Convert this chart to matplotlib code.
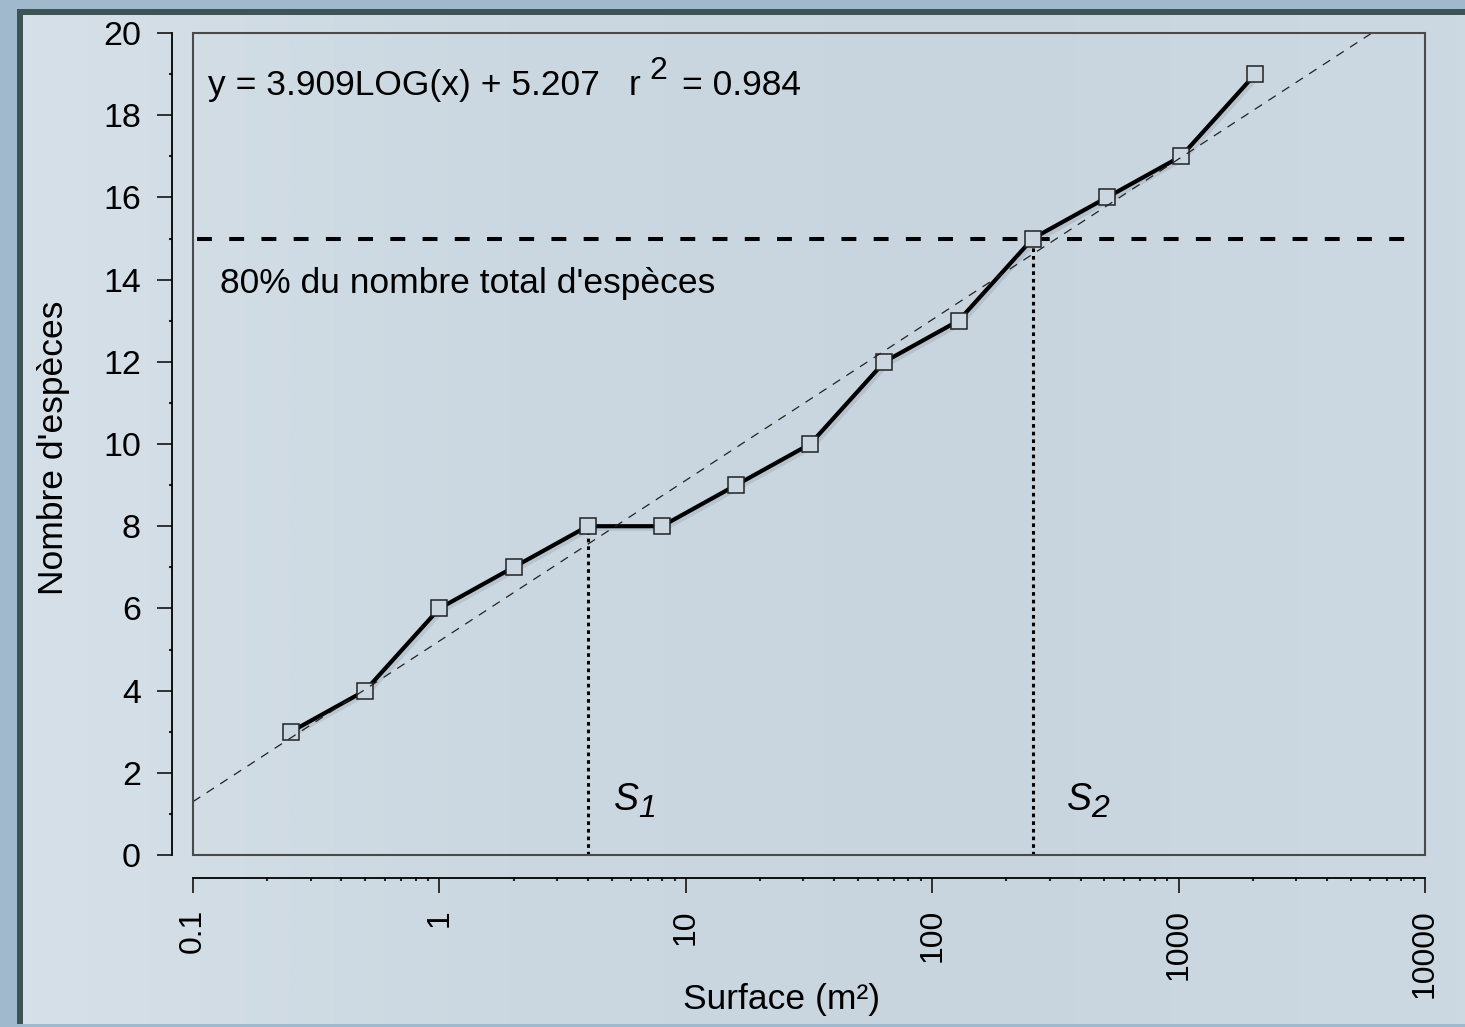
import numpy as np
import matplotlib
matplotlib.use('Agg')
import matplotlib.pyplot as plt
import matplotlib.patheffects as pe
from matplotlib.patches import Rectangle
from matplotlib.colors import LinearSegmentedColormap
from matplotlib.ticker import FixedLocator, NullFormatter, LogLocator

# data
surface = [0.25, 0.5, 1, 2, 4, 8, 16, 32, 64, 128, 256, 512, 1024, 2048]
especes = [3, 4, 6, 7, 8, 8, 9, 10, 12, 13, 15, 16, 17, 19]
pente = 3.909
ordonnee = 5.207
r2 = 0.984
seuil = 15
s_x = [4, 256]
s_y = [8, 15]
s_labels = ['1', '2']
x_ticks = [0.1, 1, 10, 100, 1000, 10000]
x_ticklabels = ['0.1', '1', '10', '100', '1000', '10000']
y_ticks = [0, 2, 4, 6, 8, 10, 12, 14, 16, 18, 20]

plt.rcParams['font.family'] = ['Liberation Sans', 'DejaVu Sans']

W, H = 1465, 1027
panel = '#cad7e0'
fig = plt.figure(figsize=(W/100.0, H/100.0), dpi=100)
fig.patch.set_facecolor('#a0b9cd')

# background: dark frame on top/left and light panel with soft gradient
bg = fig.add_axes([0, 0, 1, 1], zorder=-5)
bg.axis('off')
bg.add_patch(Rectangle((17, 9), W, H - 12, facecolor='#3e5356', edgecolor='none', zorder=1))
cmap = LinearSegmentedColormap.from_list('pan', ['#d6e0e8', '#cbd8e1', '#c8d5df', '#cdd9e2'])
grad = np.linspace(0, 1, 256).reshape(1, -1)
bg.imshow(grad, cmap=cmap, extent=(23, W, H - 3, 15), aspect='auto',
          interpolation='bicubic', zorder=2)
bg.set_xlim(0, W)
bg.set_ylim(H, 0)

ax = fig.add_axes([193/W, 1 - 855/H, 1232/W, 822/H])
ax.set_facecolor('none')
ax.set_xscale('log')
ax.set_xlim(0.1, 10000)
ax.set_ylim(0, 20)

shadow = [pe.SimpleLineShadow(offset=(2, -2), alpha=0.12, shadow_color='#304050'), pe.Normal()]

# data line and markers
ax.plot(surface, especes, color='black', lw=3.0, zorder=3, solid_capstyle='butt',
        path_effects=shadow)
ax.plot(surface, especes, ls='none', marker='s', ms=12, mfc=panel, mec='#222222',
        mew=1.1, zorder=4)

# regression line
xr = np.array([0.1, 10000])
ax.plot(xr, pente*np.log10(xr) + ordonnee, color='#222222', lw=0.9,
        dashes=(7, 6), zorder=5)

# 80% threshold
ax.axhline(seuil, xmin=0.003, xmax=0.99, color='black', lw=2.9, dashes=(3.7, 4.3), zorder=2)

# S1, S2 dotted lines
for xs, ys in zip(s_x, s_y):
    ax.plot([xs, xs], [0, ys], color='black', lw=2.2, dashes=(1.2, 1.3), zorder=2)

# texts
def px(x, y):
    return ((x - 193) / 1232.0, (855 - y) / 822.0)

fs = 25.5
ax.text(*px(208, 95), 'y = %.3fLOG(x) + %.3f' % (pente, ordonnee), transform=ax.transAxes,
        fontsize=fs, va='baseline', ha='left')
ax.text(*px(629, 95), 'r', transform=ax.transAxes, fontsize=fs, va='baseline', ha='left')
ax.text(*px(649, 79), '2', transform=ax.transAxes, fontsize=23, va='baseline', ha='left')
ax.text(*px(682, 95), '= %.3f' % r2, transform=ax.transAxes, fontsize=fs, va='baseline', ha='left')
ax.text(*px(220, 293), "80% du nombre total d'espèces", transform=ax.transAxes,
        fontsize=fs, va='baseline', ha='left')

s_pos = [(614, 810), (1067, 810)]
for (sx, sy), lab in zip(s_pos, s_labels):
    ax.text(*px(sx, sy), 'S', transform=ax.transAxes, fontsize=27, style='italic',
            va='baseline', ha='left')
    ax.text(*px(sx + 24, sy + 7), lab, transform=ax.transAxes, fontsize=23, style='italic',
            va='baseline', ha='left')

# box around plot area
ax.add_patch(Rectangle((0, 0), 1, 1, transform=ax.transAxes, fill=False,
                       edgecolor='#4a4a4a', lw=1.5, zorder=6, clip_on=False))

# spines
for s in ['top', 'right']:
    ax.spines[s].set_visible(False)
ax.spines['left'].set_position(('outward', 15))
ax.spines['bottom'].set_position(('outward', 16.5))
ax.spines['left'].set_linewidth(1.3)
ax.spines['bottom'].set_linewidth(1.3)

ax.set_yticks(y_ticks)
ax.yaxis.set_minor_locator(FixedLocator(np.arange(1, 20, 2)))
ax.set_xticks(x_ticks)
ax.set_xticklabels(x_ticklabels, rotation=90)
ax.xaxis.set_minor_locator(LogLocator(base=10, subs=np.arange(2, 10), numticks=20))
ax.xaxis.set_minor_formatter(NullFormatter())

ax.tick_params(axis='both', which='major', length=10.5, width=1.3, color='#222222')
ax.tick_params(axis='y', which='major', pad=12, labelsize=24.5)
ax.tick_params(axis='x', which='major', pad=12, labelsize=23)
ax.tick_params(axis='both', which='minor', length=2.5, width=1.5, color='#222222')

ax.set_ylabel("Nombre d'espèces", fontsize=fs)
ax.set_xlabel('Surface (m²)', fontsize=fs)
ax.yaxis.set_label_coords((54 - 193) / 1232.0, (855 - 448) / 822.0)
ax.xaxis.set_label_coords((782 - 193) / 1232.0, (855 - 1000) / 822.0)
ax.xaxis.label.set_va('center')
ax.yaxis.label.set_va('center')

fig.savefig('out.png', dpi=100, facecolor=fig.get_facecolor())
